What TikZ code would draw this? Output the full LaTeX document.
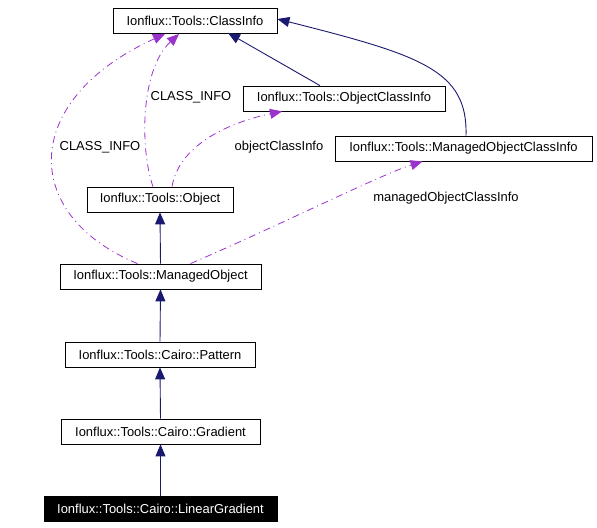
\documentclass[tikz,border=0pt]{standalone}
\usepackage{fontspec}
\setmainfont{Liberation Sans}
\usetikzlibrary{arrows.meta}
\definecolor{inh}{HTML}{191970}
\definecolor{usage}{HTML}{9A32CD}

\tikzset{
	cls/.style={draw=black,fill=white,line width=0.8bp,minimum height=25bp,inner sep=0pt,font=\fontsize{13}{15}\selectfont},
	cur/.style={cls,fill=black,text=white},
	inherit/.style={draw=inh,line width=0.9bp,-{Triangle[length=12bp,width=10bp]}},
	member/.style={draw=usage,line width=0.8bp,dash pattern=on 7bp off 4bp on 1bp off 4bp,-{Triangle[length=12bp,width=10bp]}},
	lbl/.style={font=\fontsize{13}{15}\selectfont,inner sep=0pt},
}

\begin{document}
	\begin{tikzpicture}[x=1bp,y=-1bp]
		\useasboundingbox (0,0) rectangle (597,528);
		% classes
		\node [cls,minimum width=164bp] (CI) at (195,21) {Ionflux::Tools::ClassInfo};
		\node [cls,minimum width=202bp] (OCI) at (344,98.5) {Ionflux::Tools::ObjectClassInfo};
		\node [cls,minimum width=257bp] (MOCI) at (463.5,148.5) {Ionflux::Tools::ManagedObjectClassInfo};
		\node [cls,minimum width=146bp] (O) at (160,199.5) {Ionflux::Tools::Object};
		\node [cls,minimum width=201bp] (MO) at (160.5,276.5) {Ionflux::Tools::ManagedObject};
		\node [cls,minimum width=190bp] (P) at (160,354.5) {Ionflux::Tools::Cairo::Pattern};
		\node [cls,minimum width=199bp] (G) at (160.5,431.5) {Ionflux::Tools::Cairo::Gradient};
		\node [cur,minimum width=233bp] (LG) at (160.5,509) {Ionflux::Tools::Cairo::LinearGradient};
		% labels
		\node [lbl] (l1) at (191,97) {CLASS\_INFO};
		\node [lbl] (l2) at (100,147) {CLASS\_INFO};
		\node [lbl] (l3) at (279,147) {objectClassInfo};
		\node [lbl] (l4) at (446,198) {managedObjectClassInfo};
		% inheritance
		\draw [inherit] ([xshift=-24bp]OCI.north) -- ([xshift=33bp,yshift=1bp]CI.south);
		\draw [inherit] ([xshift=2.5bp]MOCI.north) .. controls (468,70) and (420,55) .. ([yshift=2bp]CI.east);
		\draw [inherit] (MO.north) -- (O.south);
		\draw [inherit] (P.north) -- (MO.south);
		\draw [inherit] (G.north) -- (P.south);
		\draw [inherit] (LG.north) -- (G.south);
		% members
		\draw [member] ([xshift=-7bp]O.north) .. controls (140,150) and (140,70) .. ([xshift=-16bp]CI.south);
		\draw [member] ([xshift=-23bp]MO.north) .. controls (20,215) and (20,100) .. ([xshift=-30bp]CI.south);
		\draw [member] ([xshift=12bp]O.north) .. controls (180,140) and (240,120) .. ([xshift=-62bp]OCI.south);
		\draw [member] ([xshift=30bp]MO.north) .. controls (280,225) and (380,175) .. ([xshift=-41bp]MOCI.south);
	\end{tikzpicture}
\end{document}
